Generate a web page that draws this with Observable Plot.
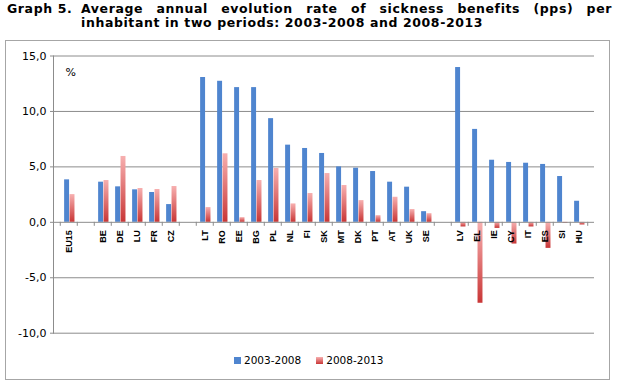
<!DOCTYPE html>
<html>
<head>
<meta charset="utf-8">
<script src="https://cdn.jsdelivr.net/npm/d3@7"></script>
<script src="https://cdn.jsdelivr.net/npm/@observablehq/plot@0.6"></script>
<style>
  html, body { margin: 0; padding: 0; background: #fff; }
  body { width: 617px; height: 384px; position: relative; overflow: hidden; font-family: "DejaVu Sans", sans-serif; }
  #t1 { position: absolute; left: 7px; top: 2px; font-weight: bold; font-size: 12.5px; line-height: 14px; white-space: nowrap; letter-spacing: 0.6px; }
  #t2 { position: absolute; left: 81px; top: 2px; width: 531px; font-weight: bold; font-size: 12.5px; line-height: 14px; letter-spacing: 0.6px; }
  #t2 .l1 { text-align: justify; text-align-last: justify; white-space: nowrap; }
  #frame { position: absolute; left: 5px; top: 40px; width: 603px; height: 338px; border: 1px solid #a6a6a6; box-sizing: content-box; }
  #chart { position: absolute; left: 0; top: 40px; }
  #legend { position: absolute; top: 353px; left: 234px; font-size: 10.5px; line-height: 14px; white-space: nowrap; }
  #legend span.sw { display: inline-block; width: 7px; height: 7px; vertical-align: -0px; margin-right: 3px; }
  #legend span.item { margin-right: 15px; }
</style>
</head>
<body>
<div id="t1">Graph 5.</div>
<div id="t2"><div class="l1">Average annual evolution rate of sickness benefits (pps) per</div><div>inhabitant in two periods: 2003-2008 and 2008-2013</div></div>
<div id="frame"></div>
<div id="chart"></div>
<div id="legend"></div>
<script>
// Slots along the x axis (gap slots are empty)
const slots = ["EU15", "_g1", "BE", "DE", "LU", "FR", "CZ", "_g2",
  "LT", "RO", "EE", "BG", "PL", "NL", "FI", "SK", "MT", "DK", "PT", "AT", "UK", "SE", "_g3",
  "LV", "EL", "IE", "CY", "IT", "ES", "SI", "HU"];
const countries = ["EU15", "BE", "DE", "LU", "FR", "CZ",
  "LT", "RO", "EE", "BG", "PL", "NL", "FI", "SK", "MT", "DK", "PT", "AT", "UK", "SE",
  "LV", "EL", "IE", "CY", "IT", "ES", "SI", "HU"];
const series = ["2003-2008", "2008-2013"];
const v0308 = [3.83, 3.62, 3.2, 2.93, 2.69, 1.6,
  13.06, 12.72, 12.15, 12.15, 9.35, 6.96, 6.66, 6.21, 5.0, 4.88, 4.58, 3.62, 3.17, 0.96,
  13.96, 8.38, 5.6, 5.4, 5.33, 5.22, 4.13, 1.9];
const v0813 = [2.5, 3.77, 5.94, 3.05, 2.96, 3.23,
  1.33, 6.18, 0.42, 3.77, 4.86, 1.66, 2.6, 4.4, 3.32, 1.96, 0.6, 2.26, 1.15, 0.78,
  -0.42, -7.3, -0.55, -1.96, -0.42, -2.35, -0.08, -0.24];
const yTicks = [-10, -5, 0, 5, 10, 15];
const gridVals = [-10, -5, 5, 10, 15];

const data = countries.map((c, i) => ({country: c, a: v0308[i], b: v0813[i]}));

const BLUE = "#4f85cf";
const W = 617, H = 300, mL = 53, mR = 23, mT = 15.5, mB = 7.3;
const bw = (W - mL - mR) / slots.length;
const barW = 5.4, off = 0.8;
const GRID = "#8c8c8c";
const font = "DejaVu Sans";

const defs = () => {
  const ns = "http://www.w3.org/2000/svg";
  const d = document.createElementNS(ns, "defs");
  const g = document.createElementNS(ns, "linearGradient");
  g.setAttribute("id", "redGrad");
  g.setAttribute("x1", "0"); g.setAttribute("y1", "0");
  g.setAttribute("x2", "0"); g.setAttribute("y2", "1");
  [["0", "#f7b0b0"], ["1", "#c93636"]].forEach(([o, c]) => {
    const s = document.createElementNS(ns, "stop");
    s.setAttribute("offset", o); s.setAttribute("stop-color", c);
    g.appendChild(s);
  });
  d.appendChild(g);
  return d;
};

const chart = Plot.plot({
  width: W, height: H,
  marginLeft: mL, marginRight: mR, marginTop: mT, marginBottom: mB,
  x: {domain: slots, padding: 0, axis: null},
  y: {domain: [-10, 15], axis: null},
  style: {fontFamily: font, background: "transparent", color: "#000"},
  marks: [
    defs,
    Plot.ruleY(gridVals, {stroke: GRID, strokeWidth: 1}),
    Plot.frame({anchor: "left", stroke: GRID}),
    Plot.axisY({ticks: yTicks, tickFormat: d => d.toFixed(1).replace(".", ","),
      tickSize: 3, tickPadding: 4, stroke: GRID, fontSize: 11, fill: "#000"}),
    Plot.barY(data, {x: "country", y: "a", fill: BLUE,
      insetLeft: bw / 2 - barW + off, insetRight: bw / 2 - off}),
    Plot.barY(data, {x: "country", y: "b", fill: "url(#redGrad)",
      insetLeft: bw / 2 + off, insetRight: bw / 2 - barW - off}),
    Plot.ruleY([0], {stroke: GRID, strokeWidth: 1}),
    Plot.ruleX(slots, {x: d => d, y1: 0, y2: 0, insetBottom: -4, stroke: GRID, dx: -bw / 2}),
    Plot.ruleX(slots.slice(-1), {x: d => d, y1: 0, y2: 0, insetBottom: -4, stroke: GRID, dx: bw / 2}),
    Plot.text(countries, {x: d => d, y: () => 0, text: d => d, rotate: -90, textAnchor: "end",
      dy: 8, fontWeight: "bold", fontSize: 9, fontFamily: "Liberation Sans", fill: "#000"}),
    Plot.text(["%"], {frameAnchor: "top-left", dx: 12, dy: 12.5, textAnchor: "start",
      fontSize: 11, fill: "#000"})
  ]
});
document.getElementById("chart").appendChild(chart);

const legend = document.getElementById("legend");
const legendFills = [BLUE, "linear-gradient(#f7b0b0, #c93636)"];
series.forEach((s, i) => {
  const item = document.createElement("span");
  item.className = "item";
  const sw = document.createElement("span");
  sw.className = "sw";
  sw.style.background = legendFills[i];
  item.appendChild(sw);
  item.appendChild(document.createTextNode(s));
  legend.appendChild(item);
});
</script>
</body>
</html>
